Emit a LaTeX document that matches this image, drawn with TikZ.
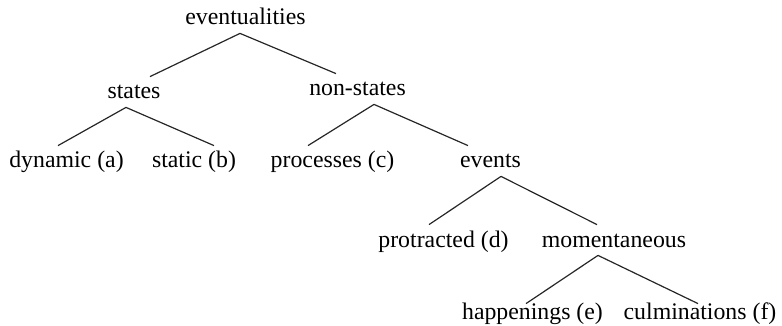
\documentclass[tikz,border=0pt]{standalone}
\usepackage{fontspec}
\setmainfont{Liberation Serif}
\tikzset{
	label/.style={inner sep=0pt, anchor=base, font=\fontsize{11.9}{14}\selectfont, text height=11pt, text depth=4pt},
	branch/.style={line width=0.6pt, black!85}
}
\begin{document}
\begin{tikzpicture}[x=0.5pt, y=-0.5pt]
			\useasboundingbox (0,0) rectangle (782,326);
			% levels of the tree
			\node[label] (ev) at (245.5,25) {eventualities};
			\node[label] (st) at (134,99) {states};
			\node[label] (ns) at (357.5,96) {non-states};
			\node[label] (dyn) at (66.5,168) {dynamic (a)};
			\node[label] (sta) at (194,168) {static (b)};
			\node[label] (proc) at (332.5,168) {processes (c)};
			\node[label] (evt) at (490.5,168) {events};
			\node[label] (prot) at (443.5,247) {protracted (d)};
			\node[label] (mom) at (614,247) {momentaneous};
			\node[label] (hap) at (532.5,319) {happenings (e)};
			\node[label] (cul) at (700,319) {culminations (f)};
			% branches
			\draw[branch] ([xshift=-2.75pt]ev.south) -- ([xshift=8pt]st.north);
			\draw[branch] ([xshift=-2.75pt]ev.south) -- ([xshift=-10.75pt]ns.north);
			\draw[branch] ([xshift=-4pt]st.south) -- ([xshift=-4.25pt]dyn.north);
			\draw[branch] ([xshift=-4pt]st.south) -- ([xshift=10pt]sta.north);
			\draw[branch] ([xshift=8.25pt]ns.south) -- ([xshift=-12.25pt]proc.north);
			\draw[branch] ([xshift=8.25pt]ns.south) -- ([xshift=-11.25pt]evt.north);
			\draw[branch] ([xshift=5.25pt]evt.south) -- ([xshift=-7.25pt]prot.north);
			\draw[branch] ([xshift=5.25pt]evt.south) -- ([xshift=-8.5pt]mom.north);
			\draw[branch] ([xshift=-8pt]mom.south) -- ([xshift=-3.25pt,yshift=-3.5pt]hap.north);
			\draw[branch] ([xshift=-8pt]mom.south) -- ([xshift=-1pt,yshift=-3.5pt]cul.north);
\end{tikzpicture}
\end{document}
